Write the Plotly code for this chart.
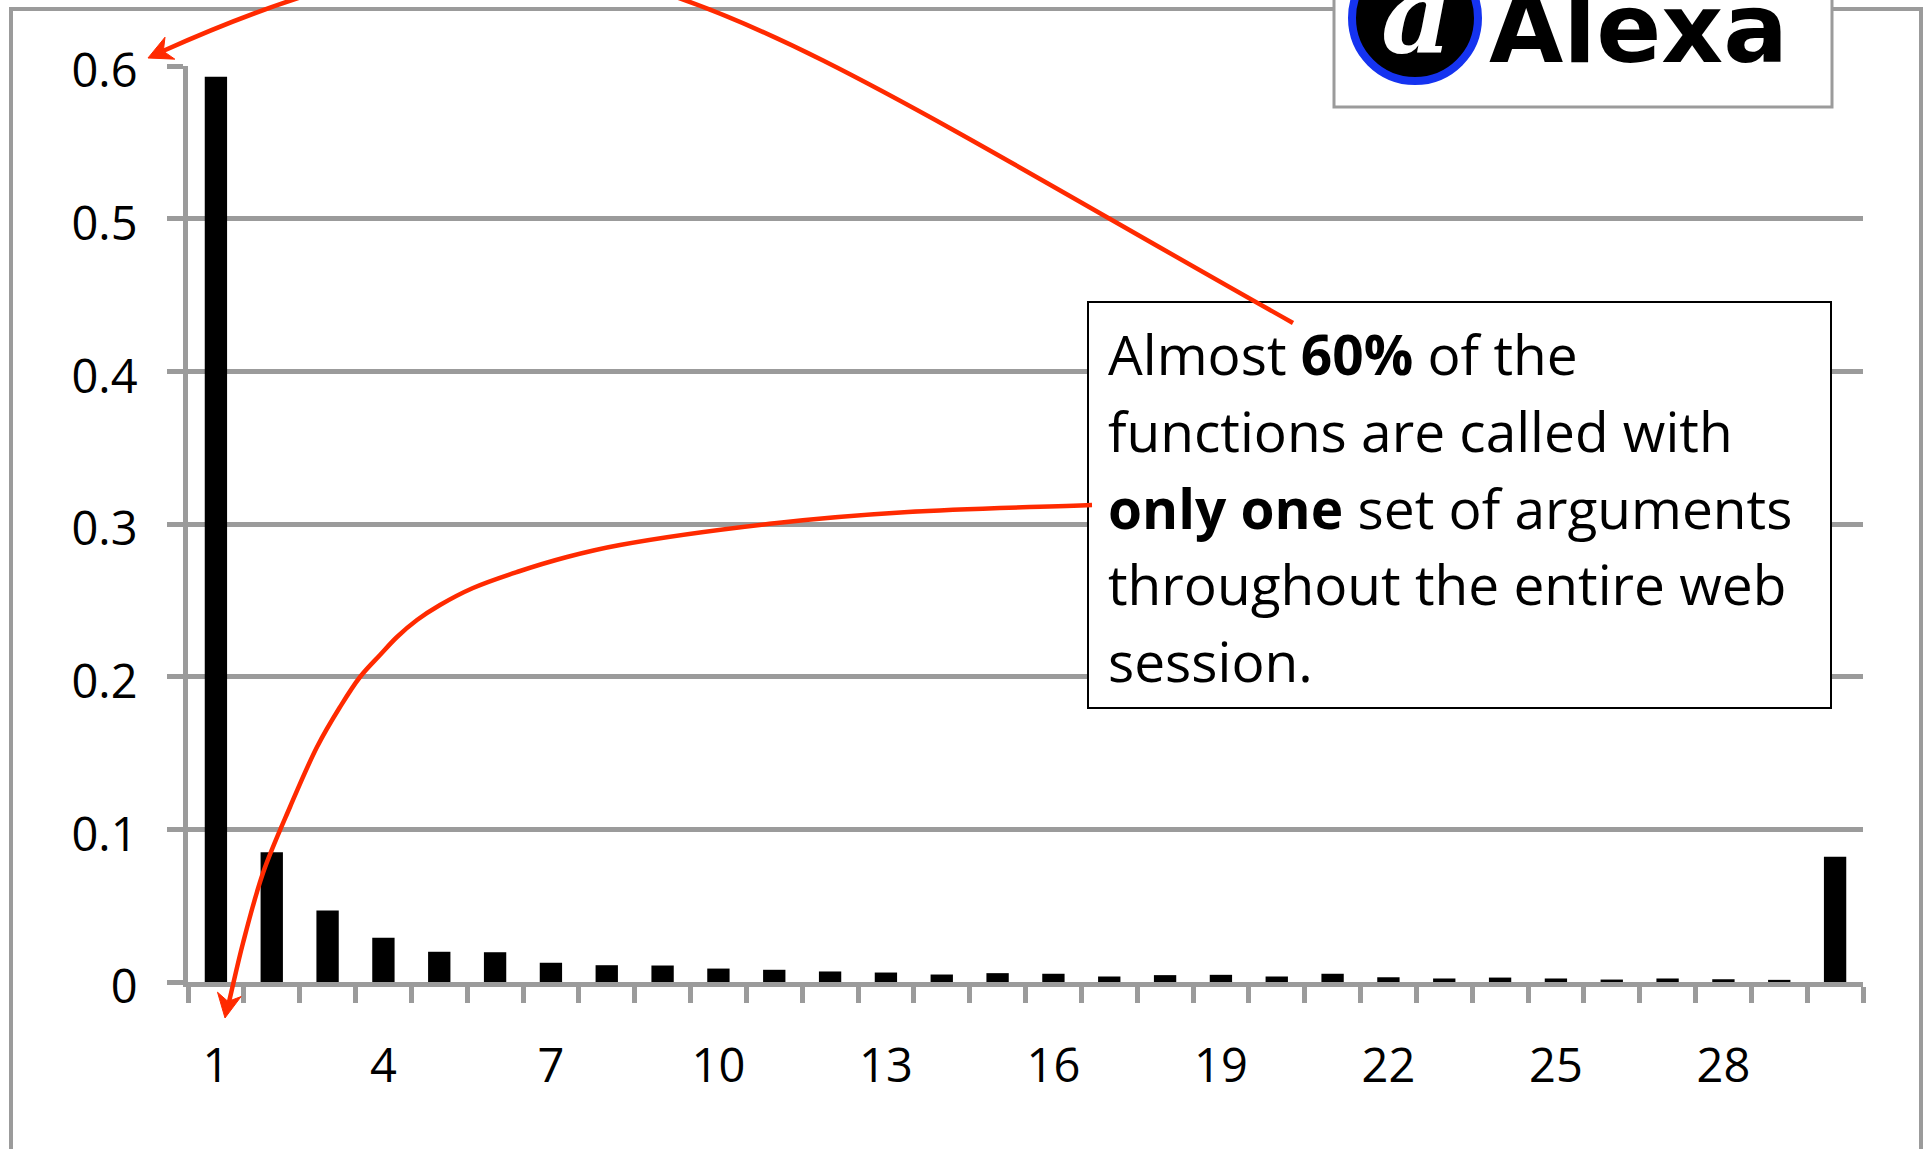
import plotly.graph_objects as go

# Number of distinct argument sets per function (1..30) and the share of functions
arg_sets = list(range(1, 31))
share = [0.593, 0.085, 0.0468, 0.029, 0.0198, 0.0195, 0.0126, 0.011, 0.0108, 0.0088,
         0.008, 0.0069, 0.0062, 0.0049, 0.0058, 0.0054, 0.0036, 0.0045, 0.0047, 0.0036,
         0.0054, 0.0031, 0.0023, 0.0029, 0.0023, 0.0016, 0.0023, 0.0018, 0.0014, 0.082]

x_tick_vals = [1, 4, 7, 10, 13, 16, 19, 22, 25, 28]
x_tick_text = ["1", "4", "7", "10", "13", "16", "19", "22", "25", "28"]
y_tick_vals = [0, 0.1, 0.2, 0.3, 0.4, 0.5, 0.6]
y_tick_text = ["0", "0.1", "0.2", "0.3", "0.4", "0.5", "0.6"]

note_lines = [
    "Almost <b>60%</b> of the",
    "functions are called with",
    "<b>only one</b> set of arguments",
    "throughout the entire web",
    "session.",
]

# ---- page geometry -------------------------------------------------------
FIG_W, FIG_H = 1928, 1149
M_L, M_R, M_T, M_B = 188, 65, 66, 167
PLOT_W = FIG_W - M_L - M_R
PLOT_H = FIG_H - M_T - M_B

GRAY = "#9b9b9b"
RED = "#ff2a00"
FONT = "Open Sans"


def px(x):
    """page pixel x -> paper fraction"""
    return (x - M_L) / PLOT_W


def py(y):
    """page pixel y (from top) -> paper fraction"""
    return (FIG_H - M_B - y) / PLOT_H


def fmt(p):
    return f"{px(p[0]):.6f},{py(p[1]):.6f}"


def smooth_path(points, alpha=0.5):
    """Centripetal Catmull-Rom spline through page-pixel points -> SVG path (paper units)."""
    pts = list(points)
    first = (2 * pts[0][0] - pts[1][0], 2 * pts[0][1] - pts[1][1])
    last = (2 * pts[-1][0] - pts[-2][0], 2 * pts[-1][1] - pts[-2][1])
    ext = [first] + pts + [last]

    def dist(a, b):
        return max(((a[0] - b[0]) ** 2 + (a[1] - b[1]) ** 2) ** 0.5, 1e-6)

    d = "M" + fmt(pts[0])
    for i in range(1, len(ext) - 2):
        p0, p1, p2, p3 = ext[i - 1], ext[i], ext[i + 1], ext[i + 2]
        d1 = dist(p0, p1) ** alpha
        d2 = dist(p1, p2) ** alpha
        d3 = dist(p2, p3) ** alpha
        b1 = tuple((d1 * d1 * p2[k] - d2 * d2 * p0[k]
                    + (2 * d1 * d1 + 3 * d1 * d2 + d2 * d2) * p1[k]) / (3 * d1 * (d1 + d2))
                   for k in range(2))
        b2 = tuple((d3 * d3 * p1[k] - d2 * d2 * p3[k]
                    + (2 * d3 * d3 + 3 * d3 * d2 + d2 * d2) * p2[k]) / (3 * d3 * (d3 + d2))
                   for k in range(2))
        d += " C" + fmt(b1) + " " + fmt(b2) + " " + fmt(p2)
    return d


def arrow_head(tip, direction, length=24, half=12, notch=0.7):
    dx, dy = direction
    norm = (dx * dx + dy * dy) ** 0.5
    dx, dy = dx / norm, dy / norm
    bx, by = tip[0] - dx * length, tip[1] - dy * length
    w1 = (bx - dy * half, by + dx * half)
    w2 = (bx + dy * half, by - dx * half)
    nt = (tip[0] - dx * length * notch, tip[1] - dy * length * notch)
    return "M" + fmt(tip) + " L" + fmt(w1) + " L" + fmt(nt) + " L" + fmt(w2) + " Z"


fig = go.Figure()
fig.add_trace(go.Bar(
    x=arg_sets, y=share, width=0.4,
    marker=dict(color="black", line=dict(width=0)),
    showlegend=False, hoverinfo="skip",
))

shapes = []
# outer chart frame
shapes.append(dict(type="rect", xref="paper", yref="paper",
                   x0=px(11), x1=px(1921), y0=py(1175), y1=py(9),
                   line=dict(color=GRAY, width=4), fillcolor="rgba(0,0,0,0)", layer="above"))
# logo panel
shapes.append(dict(type="rect", xref="paper", yref="paper",
                   x0=px(1334), x1=px(1832), y0=py(107), y1=py(-40),
                   line=dict(color=GRAY, width=3), fillcolor="white", layer="above"))
shapes.append(dict(type="circle", xref="paper", yref="paper",
                   x0=px(1352), x1=px(1478), y0=py(81), y1=py(-45),
                   line=dict(color="#1533f0", width=8), fillcolor="black", layer="above"))
# note box
shapes.append(dict(type="rect", xref="paper", yref="paper",
                   x0=px(1088), x1=px(1831), y0=py(708), y1=py(302),
                   line=dict(color="black", width=2), fillcolor="white", layer="above"))

# red arrow to the 0.6 tick
shapes.append(dict(type="path", xref="paper", yref="paper",
                   path="M" + fmt((1293, 323)) + " C" + fmt((683, -20)) + " "
                        + fmt((574, -133)) + " " + fmt((163, 51)),
                   line=dict(color=RED, width=4.5), layer="above"))
shapes.append(dict(type="path", xref="paper", yref="paper",
                   path=arrow_head((148, 58), (-0.913, 0.409)),
                   line=dict(color=RED, width=1), fillcolor=RED, layer="above"))

# red arrow to the first category
curve2 = [(1092, 505), (908, 512), (777, 523), (620, 545), (567, 557), (517, 572),
          (473, 588), (440, 605), (417, 620), (397, 637), (380, 655), (360, 677),
          (340, 707), (317, 747), (290, 807), (263, 873), (243, 943), (229, 1002)]
shapes.append(dict(type="path", xref="paper", yref="paper",
                   path=smooth_path(curve2),
                   line=dict(color=RED, width=4.5), layer="above"))
shapes.append(dict(type="path", xref="paper", yref="paper",
                   path=arrow_head((225, 1018), (-0.18, 0.984)),
                   line=dict(color=RED, width=1), fillcolor=RED, layer="above"))

annotations = []
fs = 55
baselines = [375, 452, 529, 605, 682]
for line, base in zip(note_lines, baselines):
    annotations.append(dict(
        text=line, xref="paper", yref="paper", x=px(1106), y=py(base - 0.388 * fs),
        xanchor="left", yanchor="middle", showarrow=False,
        font=dict(family=FONT, size=fs, color="black"),
    ))

# logo lettering
annotations.append(dict(
    text="<b>a</b>", xref="paper", yref="paper", x=px(1416), y=py(14),
    xanchor="center", yanchor="middle", showarrow=False,
    font=dict(family="DejaVu Serif", size=110, color="white", style="italic"),
))
annotations.append(dict(
    text="<b>Alexa</b>", xref="paper", yref="paper", x=px(1487), y=py(62 - 0.346 * 96),
    xanchor="left", yanchor="middle", showarrow=False,
    font=dict(family="DejaVu Sans", size=96, color="black"),
))

fig.update_layout(
    width=FIG_W, height=FIG_H, autosize=False,
    margin=dict(l=M_L, r=M_R, t=M_T, b=M_B, pad=0),
    paper_bgcolor="white", plot_bgcolor="white",
    bargap=0.6,
    shapes=shapes, annotations=annotations,
    xaxis=dict(
        range=[0.5, 30.5], tickmode="array", tickvals=x_tick_vals, ticktext=x_tick_text,
        showgrid=False, zeroline=False, showline=True, linecolor=GRAY, linewidth=5,
        ticks="", ticklabelstandoff=39,
        tickfont=dict(family=FONT, size=47, color="black"),
        minor=dict(tickmode="linear", tick0=0.5, dtick=1, ticks="outside",
                   ticklen=16, tickwidth=4.5, tickcolor=GRAY, showgrid=False),
    ),
    yaxis=dict(
        range=[0, 0.6], tickmode="array", tickvals=y_tick_vals, ticktext=y_tick_text,
        showgrid=True, gridcolor=GRAY, gridwidth=4.5, zeroline=False,
        showline=True, linecolor=GRAY, linewidth=5,
        ticks="outside", ticklen=16, tickwidth=4.5, tickcolor=GRAY,
        ticklabelstandoff=20, ticklabelshift=5,
        tickfont=dict(family=FONT, size=47, color="black"),
    ),
)

fig.write_html("out.html")
